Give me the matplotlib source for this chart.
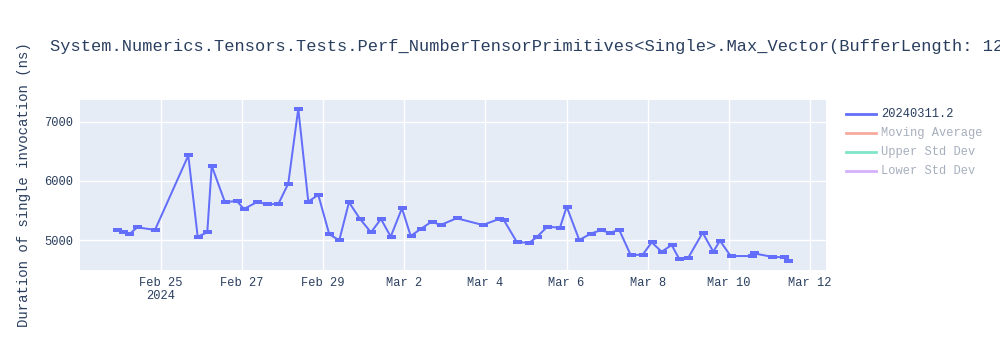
import matplotlib
matplotlib.use("Agg")
import matplotlib.pyplot as plt
from matplotlib.lines import Line2D
import pandas as pd

# ---- data ----
run_times = [
    "2024-02-23 21:46", "2024-02-24 01:19", "2024-02-24 05:14", "2024-02-24 09:58",
    "2024-02-24 20:26", "2024-02-25 16:09", "2024-02-25 21:42", "2024-02-26 03:23",
    "2024-02-26 06:00", "2024-02-26 13:51", "2024-02-26 20:47", "2024-02-27 01:06",
    "2024-02-27 08:37", "2024-02-27 14:32", "2024-02-27 21:23", "2024-02-28 03:18",
    "2024-02-28 09:14", "2024-02-28 15:09", "2024-02-28 21:04", "2024-02-29 03:34",
    "2024-02-29 09:29", "2024-02-29 15:14", "2024-02-29 21:45", "2024-03-01 04:15",
    "2024-03-01 10:10", "2024-03-01 15:55", "2024-03-01 22:35", "2024-03-02 03:45",
    "2024-03-02 09:39", "2024-03-02 16:10", "2024-03-02 21:29", "2024-03-03 06:57",
    "2024-03-03 22:21", "2024-03-04 08:10", "2024-03-04 10:56", "2024-03-04 18:27",
    "2024-03-05 01:34", "2024-03-05 06:17", "2024-03-05 12:34", "2024-03-05 20:05",
    "2024-03-06 00:03", "2024-03-06 07:30", "2024-03-06 14:25", "2024-03-06 20:10",
    "2024-03-07 01:40", "2024-03-07 07:10", "2024-03-07 13:55", "2024-03-07 21:01",
    "2024-03-08 02:21", "2024-03-08 08:15", "2024-03-08 14:11", "2024-03-08 18:40",
    "2024-03-09 00:00", "2024-03-09 08:31", "2024-03-09 14:47", "2024-03-09 18:45",
    "2024-03-10 01:05", "2024-03-10 13:30", "2024-03-10 14:52", "2024-03-11 01:21",
    "2024-03-11 08:37", "2024-03-11 11:10",
]
durations_ns = [
    5170, 5141, 5097, 5215,
    5170, 6429, 5056, 5130,
    6254, 5639, 5661, 5525,
    5639, 5610, 5605, 5954,
    7220, 5649, 5763, 5097,
    4995, 5639, 5356, 5130,
    5356, 5056, 5537, 5068,
    5186, 5310, 5254, 5368,
    5254, 5356, 5334, 4971,
    4949, 5046, 5225, 5208,
    5564, 5000, 5110, 5164,
    5124, 5170, 4746, 4751,
    4961, 4802, 4915, 4678,
    4700, 5124, 4802, 4988,
    4729, 4729, 4774, 4717,
    4707, 4649,
]
series_name = "20240311.2"
hidden_series = ["Moving Average", "Upper Std Dev", "Lower Std Dev"]
tick_dates = ["2024-02-25", "2024-02-27", "2024-02-29", "2024-03-02", "2024-03-04",
              "2024-03-06", "2024-03-08", "2024-03-10", "2024-03-12"]
tick_labels = ["Feb 25\n2024", "Feb 27", "Feb 29", "Mar 2", "Mar 4",
               "Mar 6", "Mar 8", "Mar 10", "Mar 12"]
y_ticks = [5000, 6000, 7000]
title = "System.Numerics.Tensors.Tests.Perf_NumberTensorPrimitives<Single>.Max_Vector(BufferLength: 128)"
y_label = "Duration of single invocation (ns)"

# ---- style ----
FONT = ["Liberation Mono", "DejaVu Sans Mono"]
plt.rcParams["font.family"] = FONT
TXT = "#2a3f5f"
MAIN = "#636efa"
hidden_colors = ["#f7aa9d", "#80e5ca", "#d5b1fc"]

def px(v):
    return v * 0.72

fig = plt.figure(figsize=(10, 3.5), dpi=100)
fig.patch.set_facecolor("white")
ax = fig.add_axes([0.080, 1 - 270 / 350, 0.746, 170 / 350])
ax.set_facecolor("#E5ECF6")

x = pd.to_datetime(run_times)
ax.plot(x, durations_ns, color=MAIN, lw=px(2), marker="_", ms=px(9), mew=px(4))

ax.set_xlim(pd.Timestamp("2024-02-23 00:04"), pd.Timestamp("2024-03-12 09:30"))
ax.set_ylim(4493, 7367)
ax.set_xticks(pd.to_datetime(tick_dates))
ax.set_xticklabels(tick_labels, fontsize=px(12), color=TXT, linespacing=1.15,
                   verticalalignment="top")
ax.set_yticks(y_ticks)
ax.set_yticklabels([str(v) for v in y_ticks], fontsize=px(12), color=TXT)
ax.tick_params(length=0, pad=5)
ax.grid(True, color="white", lw=1)
ax.set_axisbelow(True)
for s in ax.spines.values():
    s.set_visible(False)

fig.text(24 / 1000, 1 - 185 / 350, y_label, rotation=90, ha="center", va="center",
         fontsize=px(14), color=TXT)
fig.text(50 / 1000, 1 - 46 / 350, title, ha="left", va="center",
         fontsize=px(17), color=TXT)

# legend
rows = [114, 133, 152, 171]
names = [series_name] + hidden_series
colors = [MAIN] + hidden_colors
for i, (nm, c, r) in enumerate(zip(names, colors, rows)):
    yy = 1 - r / 350
    fig.add_artist(Line2D([846 / 1000, 876 / 1000], [yy, yy], color=c, lw=2,
                          transform=fig.transFigure))
    fig.text(881 / 1000, yy, nm, ha="left", va="center", fontsize=px(12),
             color=TXT if i == 0 else "#a6afbd")

fig.savefig("out.png", dpi=100)
